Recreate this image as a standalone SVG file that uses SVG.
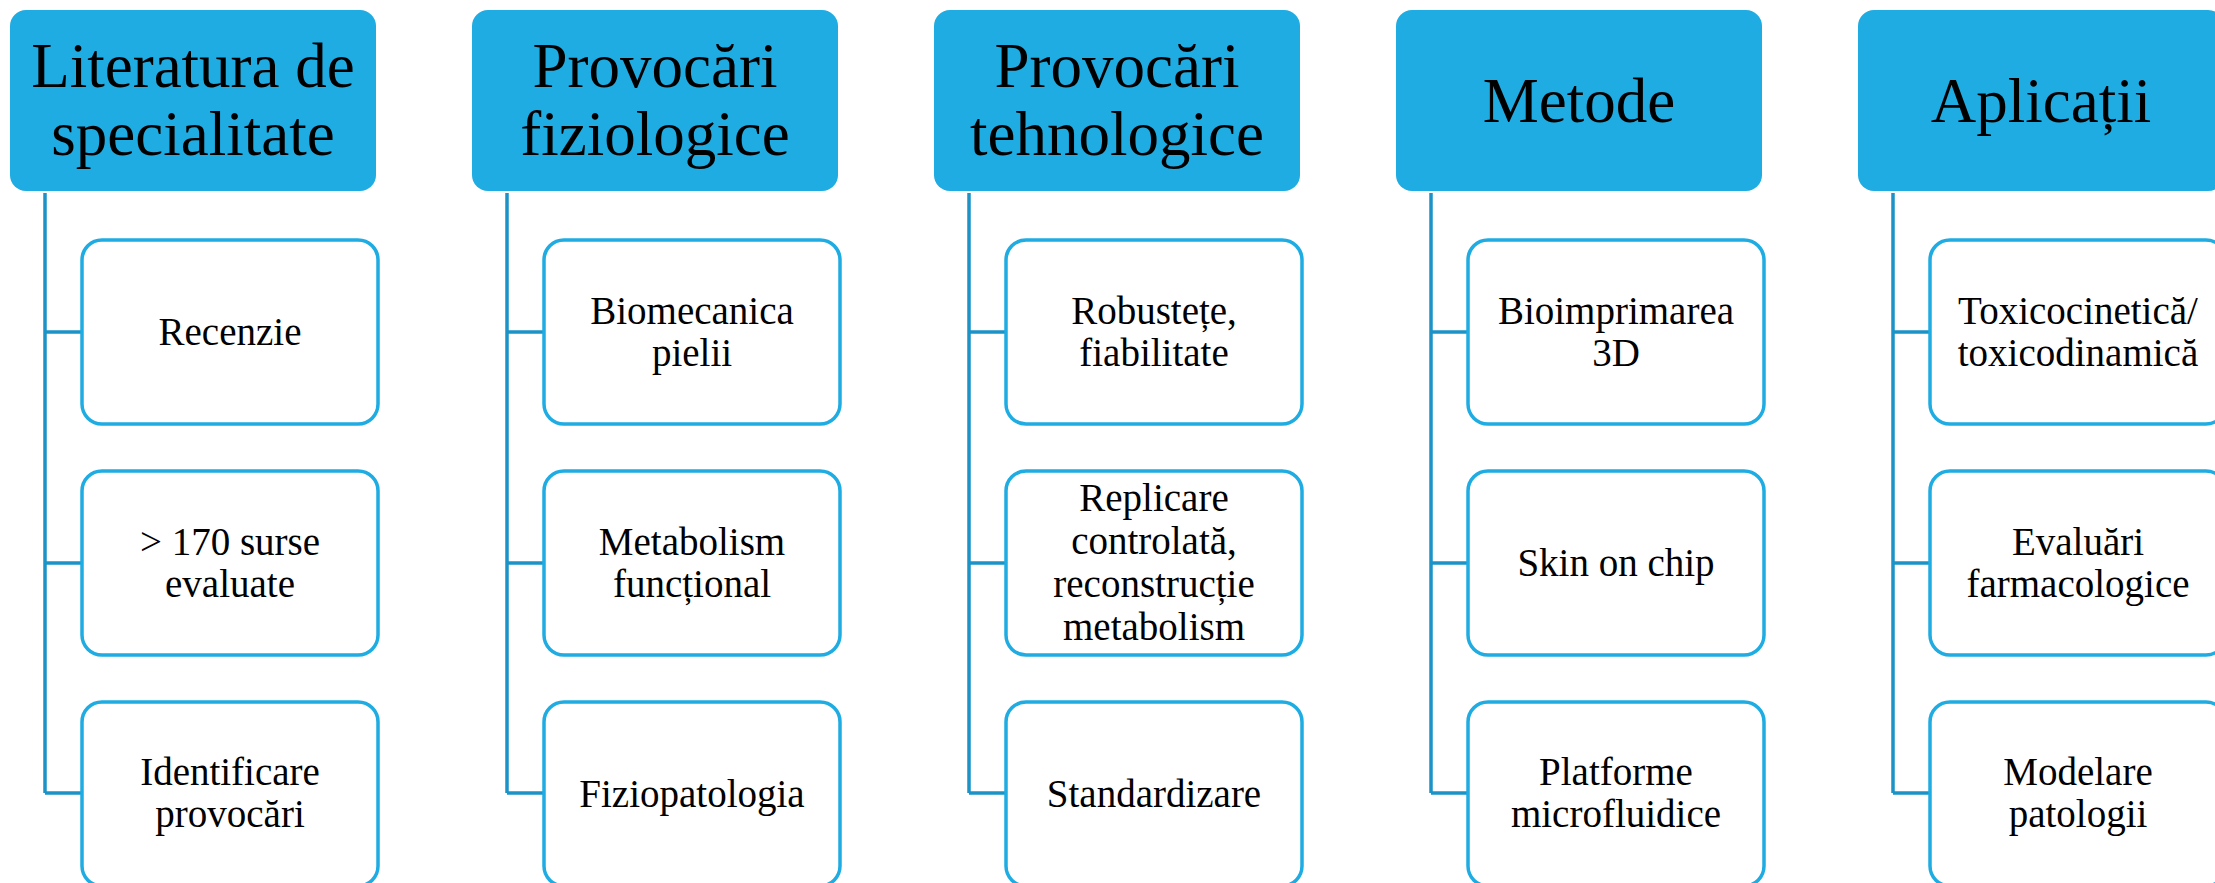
<svg xmlns="http://www.w3.org/2000/svg" width="2215" height="883" viewBox="0 0 2215 883">
<style>
.hdr{fill:#1FACE2}
.child{fill:#FFFFFF;stroke:#1FACE2;stroke-width:3.5}
.conn{fill:none;stroke:#1B93C6;stroke-width:3.5}
.ht{font-size:63px;fill:#000;text-anchor:middle}
.ct{font-size:39px;fill:#000;text-anchor:middle}
</style>
<rect width="2215" height="883" fill="#FFFFFF"/>
<g id="connectors">
<path class="conn" d="M45 193V793M45 332H82M45 563H82M45 793H82"/>
<path class="conn" d="M507 193V793M507 332H544M507 563H544M507 793H544"/>
<path class="conn" d="M969 193V793M969 332H1006M969 563H1006M969 793H1006"/>
<path class="conn" d="M1431 193V793M1431 332H1468M1431 563H1468M1431 793H1468"/>
<path class="conn" d="M1893 193V793M1893 332H1930M1893 563H1930M1893 793H1930"/>
</g>
<g font-family="Liberation Serif, DejaVu Serif, serif">
<g id="h1"><rect class="hdr" x="10" y="10" width="366" height="181" rx="16"/><text class="ht" x="193" y="87">Literatura de</text><text class="ht" x="193" y="155">specialitate</text></g>
<g id="c1a"><rect class="child" x="82" y="240" width="296" height="184" rx="20"/><text class="ct" x="230" y="345">Recenzie</text></g>
<g id="c1b"><rect class="child" x="82" y="471" width="296" height="184" rx="20"/><text class="ct" x="230" y="555">&gt; 170 surse</text><text class="ct" x="230" y="597">evaluate</text></g>
<g id="c1c"><rect class="child" x="82" y="702" width="296" height="184" rx="20"/><text class="ct" x="230" y="785">Identificare</text><text class="ct" x="230" y="827">provocări</text></g>

<g id="h2"><rect class="hdr" x="472" y="10" width="366" height="181" rx="16"/><text class="ht" x="655" y="87">Provocări</text><text class="ht" x="655" y="155">fiziologice</text></g>
<g id="c2a"><rect class="child" x="544" y="240" width="296" height="184" rx="20"/><text class="ct" x="692" y="324">Biomecanica</text><text class="ct" x="692" y="366">pielii</text></g>
<g id="c2b"><rect class="child" x="544" y="471" width="296" height="184" rx="20"/><text class="ct" x="692" y="555">Metabolism</text><text class="ct" x="692" y="597">funcțional</text></g>
<g id="c2c"><rect class="child" x="544" y="702" width="296" height="184" rx="20"/><text class="ct" x="692" y="807">Fiziopatologia</text></g>

<g id="h3"><rect class="hdr" x="934" y="10" width="366" height="181" rx="16"/><text class="ht" x="1117" y="87">Provocări</text><text class="ht" x="1117" y="155">tehnologice</text></g>
<g id="c3a"><rect class="child" x="1006" y="240" width="296" height="184" rx="20"/><text class="ct" x="1154" y="324">Robustețe,</text><text class="ct" x="1154" y="366">fiabilitate</text></g>
<g id="c3b"><rect class="child" x="1006" y="471" width="296" height="184" rx="20"/><text class="ct" x="1154" y="511">Replicare</text><text class="ct" x="1154" y="554">controlată,</text><text class="ct" x="1154" y="597">reconstrucție</text><text class="ct" x="1154" y="640">metabolism</text></g>
<g id="c3c"><rect class="child" x="1006" y="702" width="296" height="184" rx="20"/><text class="ct" x="1154" y="807">Standardizare</text></g>

<g id="h4"><rect class="hdr" x="1396" y="10" width="366" height="181" rx="16"/><text class="ht" x="1579" y="122">Metode</text></g>
<g id="c4a"><rect class="child" x="1468" y="240" width="296" height="184" rx="20"/><text class="ct" x="1616" y="324">Bioimprimarea</text><text class="ct" x="1616" y="366">3D</text></g>
<g id="c4b"><rect class="child" x="1468" y="471" width="296" height="184" rx="20"/><text class="ct" x="1616" y="576">Skin on chip</text></g>
<g id="c4c"><rect class="child" x="1468" y="702" width="296" height="184" rx="20"/><text class="ct" x="1616" y="785">Platforme</text><text class="ct" x="1616" y="827">microfluidice</text></g>

<g id="h5"><rect class="hdr" x="1858" y="10" width="366" height="181" rx="16"/><text class="ht" x="2041" y="122">Aplicații</text></g>
<g id="c5a"><rect class="child" x="1930" y="240" width="296" height="184" rx="20"/><text class="ct" x="2078" y="324">Toxicocinetică/</text><text class="ct" x="2078" y="366">toxicodinamică</text></g>
<g id="c5b"><rect class="child" x="1930" y="471" width="296" height="184" rx="20"/><text class="ct" x="2078" y="555">Evaluări</text><text class="ct" x="2078" y="597">farmacologice</text></g>
<g id="c5c"><rect class="child" x="1930" y="702" width="296" height="184" rx="20"/><text class="ct" x="2078" y="785">Modelare</text><text class="ct" x="2078" y="827">patologii</text></g>
</g>
</svg>
